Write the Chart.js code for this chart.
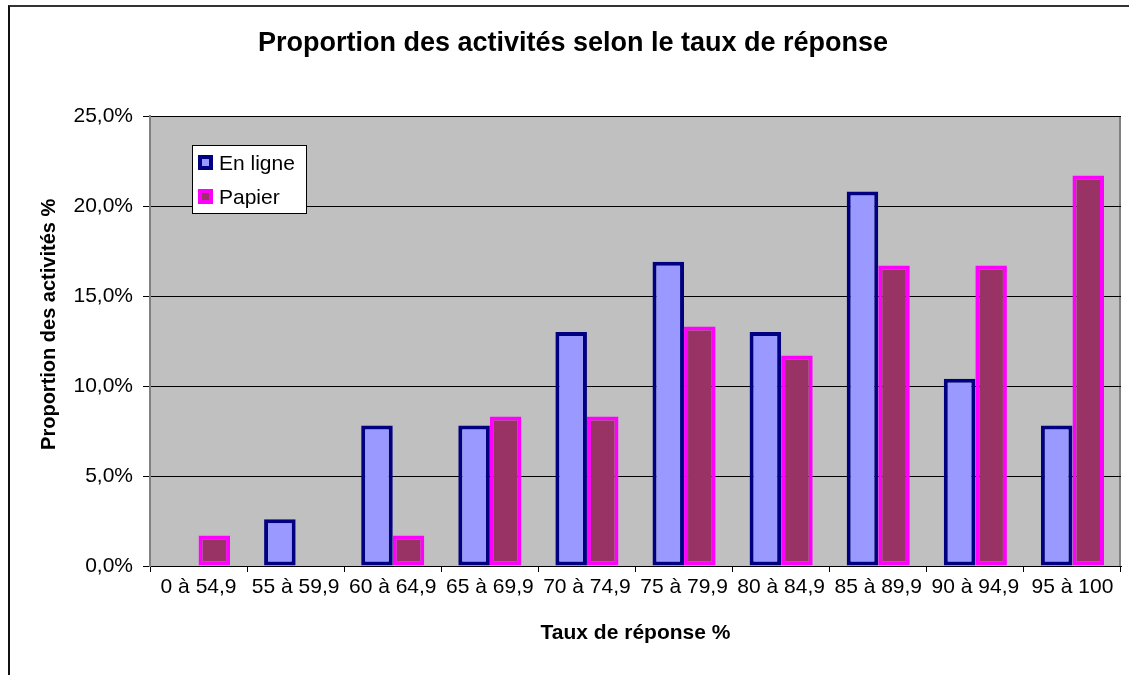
<!DOCTYPE html>
<html>
<head>
<meta charset="utf-8">
<script src="https://cdn.jsdelivr.net/npm/chart.js@4"></script>
<style>
  body { margin: 0; background: #fff; overflow: hidden; }
  #frame { position: absolute; left: 8px; top: 5px; width: 2000px; height: 2000px;
           border-left: 2px solid #111; border-top: 2px solid #333; }
  #wrap { position: absolute; left: 0; top: 0; width: 1129px; height: 675px; }
</style>
</head>
<body>
<div id="frame"></div>
<div id="wrap"><canvas id="tauxChart" width="1129" height="675"></canvas></div>
<script>
const categories = ['0 à 54,9', '55 à 59,9', '60 à 64,9', '65 à 69,9', '70 à 74,9',
    '75 à 79,9', '80 à 84,9', '85 à 89,9', '90 à 94,9', '95 à 100'];
const enLigne = [0, 2.6, 7.8, 7.8, 13.0, 16.9, 13.0, 20.8, 10.4, 7.8];
const papier = [1.7, 0, 1.7, 8.3, 8.3, 13.3, 11.7, 16.7, 16.7, 21.7];
const yTicks = [0, 5, 10, 15, 20, 25];

const FONT = "'Liberation Sans', Arial, sans-serif";
Chart.defaults.font.family = FONT;
Chart.defaults.color = '#000';

// gray plot area like the old excel chart
const plotBg = {
    id: 'plotBg',
    beforeDraw(chart) {
        const a = chart.chartArea;
        const ctx = chart.ctx;
        ctx.save();
        ctx.fillStyle = '#C0C0C0';
        ctx.fillRect(a.left, a.top, a.right - a.left, a.bottom - a.top);
        ctx.strokeStyle = '#808080';
        ctx.lineWidth = 2;
        ctx.beginPath();
        ctx.moveTo(a.right - 1, a.top);
        ctx.lineTo(a.right - 1, a.bottom);
        ctx.stroke();
        ctx.restore();
    }
};

// legend box inside the plot, top left
const boxLegend = {
    id: 'boxLegend',
    afterDraw(chart) {
        const a = chart.chartArea;
        const ctx = chart.ctx;
        const x = a.left + 42, y = a.top + 29, w = 114, h = 68;
        ctx.save();
        ctx.fillStyle = '#fff';
        ctx.fillRect(x, y, w, h);
        ctx.strokeStyle = '#000';
        ctx.lineWidth = 1;
        ctx.strokeRect(x + 0.5, y + 0.5, w, h);
        ctx.font = '21px ' + FONT;
        ctx.textBaseline = 'middle';
        chart.data.datasets.forEach(function (ds, i) {
            const cy = y + 18 + i * 34;
            ctx.fillStyle = ds.borderColor;
            ctx.fillRect(x + 6, cy - 8, 15, 15);
            ctx.fillStyle = ds.backgroundColor;
            ctx.fillRect(x + 10, cy - 4, 7, 7);
            ctx.fillStyle = '#000';
            ctx.fillText(ds.label, x + 27, cy + 1);
        });
        ctx.restore();
    }
};

const ctx = document.getElementById('tauxChart');
const tauxChart = new Chart(ctx, {
    type: 'bar',
    data: {
        labels: categories,
        datasets: [{
            label: 'En ligne',
            data: enLigne,
            backgroundColor: '#9999FF',
            borderColor: '#000080',
            borderWidth: 4,
            borderSkipped: false
        }, {
            label: 'Papier',
            data: papier,
            backgroundColor: '#993366',
            borderColor: '#FF00FF',
            borderWidth: 4,
            borderSkipped: false
        }]
    },
    options: {
        responsive: false,
        animation: false,
        layout: { padding: { left: 25, right: 8, top: 0, bottom: 0 } },
        categoryPercentage: 0.65,
        barPercentage: 1,
        plugins: {
            legend: { display: false },
            tooltip: { enabled: false },
            title: {
                display: true,
                text: 'Proportion des activités selon le taux de réponse',
                font: { size: 27, weight: 'bold' },
                color: '#000',
                padding: { top: 27.8, bottom: 55.8 }
            }
        },
        scales: {
            x: {
                afterFit(scale) { scale.height = 109; },
                grid: {
                    offset: true,
                    drawOnChartArea: false,
                    drawTicks: true,
                    tickLength: 6,
                    color: '#000'
                },
                border: { display: true, color: '#000', width: 1 },
                ticks: {
                    font: { size: 21 },
                    color: '#000',
                    padding: 3,
                    maxRotation: 0,
                    autoSkip: false
                },
                title: {
                    display: true,
                    text: 'Taux de réponse %',
                    font: { size: 21, weight: 'bold' },
                    color: '#000',
                    padding: { top: 0, bottom: 29.4 }
                }
            },
            y: {
                min: 0,
                max: 25,
                afterFit(scale) { scale.width = 125; },
                afterBuildTicks(scale) { scale.ticks = yTicks.map(v => ({ value: v })); },
                grid: {
                    color: '#000',
                    lineWidth: 1,
                    tickLength: 7
                },
                border: { display: true, color: '#808080', width: 2 },
                ticks: {
                    font: { size: 21 },
                    color: '#000',
                    padding: 10,
                    callback: v => v.toFixed(1).replace('.', ',') + '%'
                },
                title: {
                    display: true,
                    // leading spaces push the text up a little, as in the original
                    text: '      Proportion des activités %',
                    font: { size: 20, weight: 'bold' },
                    color: '#000',
                    padding: { top: 12, bottom: 0 }
                }
            }
        }
    },
    plugins: [plotBg, boxLegend]
});
</script>
</body>
</html>
